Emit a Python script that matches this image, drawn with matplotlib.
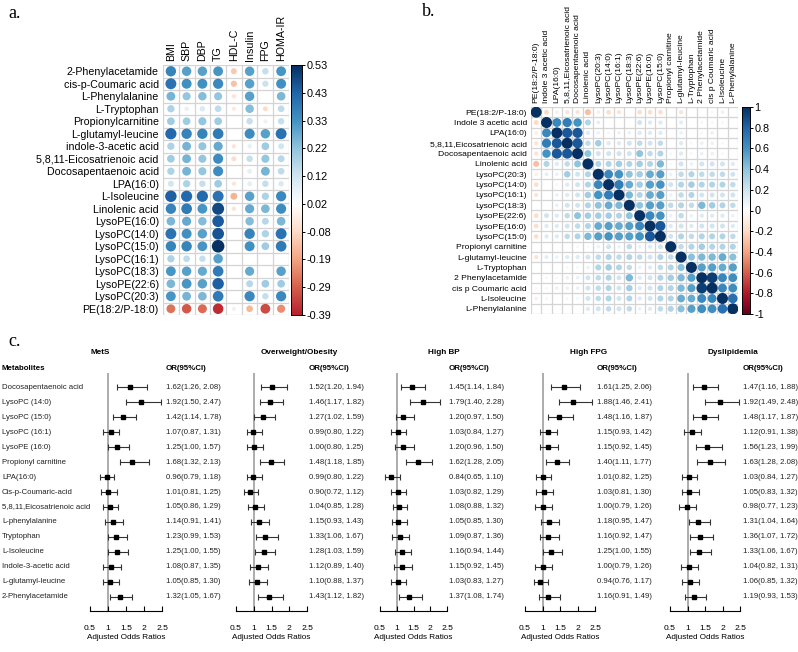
import numpy as np
import matplotlib
matplotlib.use("Agg")
import matplotlib.pyplot as plt
from matplotlib.colors import LinearSegmentedColormap

# ---------------- data: panel a ----------------
a_rows = ["2-Phenylacetamide", "cis-p-Coumaric acid", "L-Phenylalanine", "L-Tryptophan",
          "Propionylcarnitine", "L-glutamyl-leucine", "indole-3-acetic acid",
          "5,8,11-Eicosatrienoic acid", "Docosapentaenoic acid", "LPA(16:0)", "L-Isoleucine",
          "Linolenic acid", "LysoPE(16:0)", "LysoPC(14:0)", "LysoPC(15:0)", "LysoPC(16:1)",
          "LysoPC(18:3)", "LysoPE(22:6)", "LysoPC(20:3)", "PE(18:2/P-18:0)"]
a_cols = ["BMI", "SBP", "DBP", "TG", "HDL-C", "Insulin", "FPG", "HOMA-IR"]
nan = np.nan
a_vals = [
    [0.36, 0.30, 0.30, 0.32, -0.12, 0.30, 0.14, 0.32],
    [0.40, 0.33, 0.33, 0.35, -0.13, 0.30, 0.13, 0.33],
    [0.26, 0.22, 0.24, 0.22, -0.06, 0.30, nan, 0.25],
    [0.18, 0.07, 0.10, 0.15, -0.05, 0.24, -0.08, 0.15],
    [0.20, 0.20, 0.22, 0.20, nan, 0.14, 0.06, 0.14],
    [0.42, 0.36, 0.36, 0.38, nan, 0.34, 0.30, 0.40],
    [0.18, 0.26, 0.22, 0.28, -0.06, 0.07, 0.20, 0.12],
    [0.20, 0.26, 0.22, 0.34, -0.08, 0.14, 0.22, 0.16],
    [0.18, 0.26, 0.22, 0.34, nan, 0.08, 0.26, 0.15],
    [0.12, 0.18, 0.14, 0.20, -0.06, 0.08, 0.14, 0.10],
    [0.44, 0.42, 0.42, 0.40, -0.16, 0.30, 0.18, 0.35],
    [0.36, 0.38, 0.32, 0.48, -0.06, 0.28, 0.25, 0.34],
    [0.25, 0.28, 0.24, 0.45, nan, 0.24, 0.16, 0.25],
    [0.40, 0.33, 0.30, 0.46, nan, 0.36, 0.18, 0.40],
    [0.36, 0.36, 0.32, 0.53, nan, 0.33, 0.20, 0.38],
    [0.18, 0.15, 0.14, 0.30, nan, nan, nan, nan],
    [0.32, 0.30, 0.28, 0.38, nan, 0.28, nan, 0.30],
    [0.25, 0.32, 0.30, 0.44, nan, 0.16, 0.20, 0.20],
    [0.32, 0.26, 0.25, 0.38, nan, 0.35, 0.14, 0.35],
    [-0.26, -0.30, -0.27, -0.37, 0.06, -0.15, -0.32, -0.22],
]
a_cbar_labels = ["0.53", "0.43", "0.33", "0.22", "0.12", "0.02", "-0.08", "-0.19", "-0.29", "-0.39"]

# ---------------- data: panel b ----------------
b_names = ["PE(18:2/P-18:0)", "Indole 3 acetic acid", "LPA(16:0)", "5,8,11,Eicosatrienoic acid",
           "Docosapentaenoic acid", "Linolenic acid", "LysoPC(20:3)", "LysoPC(14:0)",
           "LysoPC(16:1)", "LysoPC(18:3)", "LysoPE(22:6)", "LysoPE(16:0)", "LysoPC(15:0)",
           "Propionyl carnitine", "L-glutamyl-leucine", "L-Tryptophan", "2 Phenylacetamide",
           "cis p Coumaric acid", "L-Isoleucine", "L-Phenylalanine"]
# upper triangle, row i lists correlations with columns i+1 .. 19
b_upper = [
    [-0.2, -0.1, -0.15, -0.15, -0.3, -0.1, -0.18, -0.15, 0, -0.18, -0.18, -0.18, 0, -0.15, 0, 0, -0.06, -0.1, 0],
    [0.65, 0.7, 0.6, 0.3, 0.12, 0, 0, 0, 0.2, 0.15, 0.15, 0, 0.13, 0, 0.06, 0.06, 0.06, 0],
    [0.85, 0.85, 0.15, 0.1, 0.06, 0.1, 0.1, 0.15, 0.15, 0.15, 0, 0.1, 0, 0.06, 0.1, 0, 0],
    [0.85, 0.25, 0.35, 0.15, 0.15, 0.2, 0.25, 0.2, 0.25, 0, 0.15, 0.06, 0.1, 0.1, 0.06, 0],
    [0.4, 0.2, 0.2, 0.2, 0.2, 0.4, 0.25, 0.3, 0.06, 0.15, 0.06, 0.1, 0.1, 0.06, 0],
    [0.3, 0.3, 0.35, 0.3, 0.35, 0.3, 0.45, 0.05, 0.2, 0.1, 0.2, 0.2, 0.2, 0.15],
    [0.65, 0.6, 0.4, 0.35, 0.5, 0.55, 0.1, 0.25, 0.3, 0.25, 0.25, 0.25, 0.2],
    [0.7, 0.5, 0.35, 0.55, 0.6, 0.2, 0.3, 0.35, 0.3, 0.3, 0.3, 0.25],
    [0.45, 0.3, 0.5, 0.55, 0.1, 0.25, 0.3, 0.2, 0.2, 0.2, 0.2],
    [0.4, 0.55, 0.55, 0.25, 0.3, 0.25, 0.45, 0.35, 0.3, 0.25],
    [0.65, 0.6, 0.1, 0.25, 0.1, 0.15, 0.15, 0.15, 0.1],
    [0.85, 0.15, 0.2, 0.15, 0.2, 0.2, 0.2, 0.15],
    [0.2, 0.3, 0.25, 0.3, 0.3, 0.3, 0.25],
    [0.25, 0.3, 0.35, 0.3, 0.3, 0.3],
    [0.42, 0.45, 0.45, 0.5, 0.42],
    [0.55, 0.55, 0.5, 0.55],
    [0.95, 0.65, 0.62],
    [0.65, 0.62],
    [0.75],
]
b_cbar_labels = ["1", "0.8", "0.6", "0.4", "0.2", "0", "-0.2", "-0.4", "-0.6", "-0.8", "-1"]

# ---------------- data: panel c ----------------
c_metabolites = ["Docosapentaenoic acid", "LysoPC (14:0)", "LysoPC (15:0)", "LysoPC (16:1)",
                 "LysoPE (16:0)", "Propionyl carnitine", "LPA(16:0)", "Cis-p-Coumaric-acid",
                 "5,8,11,Eicosatrienoic acid", "L-phenylalanine", "Tryptophan", "L-Isoleucine",
                 "Indole-3-acetic acid", "L-glutamyl-leucine", "2-Phenylacetamide"]
c_outcomes = ["MetS", "Overweight/Obesity", "High BP", "High FPG", "Dyslipidemia"]
mets_or = [1.62, 1.92, 1.42, 1.07, 1.25, 1.68, 0.96, 1.01, 1.05, 1.14, 1.23, 1.25, 1.08, 1.05, 1.32]
mets_lo = [1.26, 1.50, 1.14, 0.87, 1.00, 1.32, 0.79, 0.81, 0.86, 0.91, 0.99, 1.00, 0.87, 0.85, 1.05]
mets_hi = [2.08, 2.47, 1.78, 1.31, 1.57, 2.13, 1.18, 1.25, 1.29, 1.41, 1.53, 1.55, 1.35, 1.30, 1.67]
ow_or = [1.52, 1.46, 1.27, 0.99, 1.00, 1.48, 0.99, 0.90, 1.04, 1.15, 1.33, 1.28, 1.12, 1.10, 1.43]
ow_lo = [1.20, 1.17, 1.02, 0.80, 0.80, 1.18, 0.80, 0.72, 0.85, 0.93, 1.06, 1.03, 0.89, 0.88, 1.12]
ow_hi = [1.94, 1.82, 1.59, 1.22, 1.25, 1.85, 1.22, 1.12, 1.28, 1.43, 1.67, 1.59, 1.40, 1.37, 1.82]
bp_or = [1.45, 1.79, 1.20, 1.03, 1.20, 1.62, 0.84, 1.03, 1.08, 1.05, 1.09, 1.16, 1.15, 1.03, 1.37]
bp_lo = [1.14, 1.40, 0.97, 0.84, 0.96, 1.28, 0.65, 0.82, 0.88, 0.85, 0.87, 0.94, 0.92, 0.83, 1.08]
bp_hi = [1.84, 2.28, 1.50, 1.27, 1.50, 2.05, 1.10, 1.29, 1.32, 1.30, 1.36, 1.44, 1.45, 1.27, 1.74]
fpg_or = [1.61, 1.88, 1.48, 1.15, 1.15, 1.40, 1.01, 1.03, 1.00, 1.18, 1.16, 1.25, 1.00, 0.94, 1.16]
fpg_lo = [1.25, 1.46, 1.16, 0.93, 0.92, 1.11, 0.82, 0.81, 0.79, 0.95, 0.92, 1.00, 0.79, 0.76, 0.91]
fpg_hi = [2.06, 2.41, 1.87, 1.42, 1.45, 1.77, 1.25, 1.30, 1.26, 1.47, 1.47, 1.55, 1.26, 1.17, 1.49]
dys_or = [1.47, 1.92, 1.48, 1.12, 1.56, 1.63, 1.03, 1.05, 0.98, 1.31, 1.36, 1.33, 1.04, 1.06, 1.19]
dys_lo = [1.16, 1.49, 1.17, 0.91, 1.23, 1.28, 0.84, 0.83, 0.77, 1.04, 1.07, 1.06, 0.82, 0.85, 0.93]
dys_hi = [1.88, 2.48, 1.87, 1.38, 1.99, 2.08, 1.27, 1.32, 1.23, 1.64, 1.72, 1.67, 1.31, 1.32, 1.53]
c_ticks = [0.5, 1, 1.5, 2, 2.5]
c_tick_labels = ["0.5", "1", "1.5", "2", "2.5"]

# ---------------- figure ----------------
W, H = 798, 652
plt.rcParams['font.family'] = ['Liberation Sans', 'DejaVu Sans']
fig = plt.figure(figsize=(W / 100, H / 100), dpi=100)


def px_axes(x0, y0, x1, y1):
    return fig.add_axes([x0 / W, 1 - y1 / H, (x1 - x0) / W, (y1 - y0) / H])


def fx(px):
    return px / W


def fy(py):
    return 1 - py / H


GRID = "#d4d4d4"
rdbu_full = ["#67001F", "#B2182B", "#D6604D", "#F4A582", "#FDDBC7", "#FFFFFF",
             "#D1E5F0", "#92C5DE", "#4393C3", "#2166AC", "#053061"]
cmap_b = LinearSegmentedColormap.from_list("corr_b", rdbu_full)
cmap_a = LinearSegmentedColormap.from_list("corr_a", ["#B8202E"] + rdbu_full[2:])


def corr_panel(ax, vals, cmap, vmin, vmax, smax, scale):
    nr, nc = vals.shape
    ax.set_xlim(-0.5, nc - 0.5)
    ax.set_ylim(nr - 0.5, -0.5)
    for k in range(nc + 1):
        ax.axvline(k - 0.5, color=GRID, lw=0.9, zorder=1)
    for k in range(nr + 1):
        ax.axhline(k - 0.5, color=GRID, lw=0.9, zorder=1)
    yy, xx = np.mgrid[0:nr, 0:nc]
    m = ~np.isnan(vals) & (vals != 0)
    v = vals[m]
    ax.scatter(xx[m], yy[m], s=smax * np.abs(v) / scale, c=v, cmap=cmap, vmin=vmin, vmax=vmax,
               edgecolors='none', zorder=3)
    for sp in ax.spines.values():
        sp.set_visible(False)


def colorbar(cax, cmap, vmin, vmax, labels, fs):
    grad = np.linspace(vmin, vmax, 256)[:, None]
    cax.imshow(grad, aspect='auto', cmap=cmap, vmin=vmin, vmax=vmax, origin='lower',
               extent=(0, 1, vmin, vmax))
    cax.set_xticks([])
    cax.yaxis.tick_right()
    cax.set_yticks(np.linspace(vmax, vmin, len(labels)))
    cax.set_yticklabels(labels, fontsize=fs)
    cax.tick_params(axis='y', length=2.5, width=0.7, pad=0.5)
    for sp in cax.spines.values():
        sp.set_linewidth(0.7)


# ---- panel a ----
A = np.array(a_vals, dtype=float)
axa = px_axes(163, 65, 289, 315)
corr_panel(axa, A, cmap_a, -0.39, 0.53, (0.72 * 12.6) ** 2, 0.53)
axa.set_yticks(range(len(a_rows)))
axa.set_yticklabels(a_rows, fontsize=7.7)
axa.xaxis.tick_top()
axa.set_xticks(range(len(a_cols)))
axa.set_xticklabels(a_cols, rotation=90, fontsize=7.7)
axa.tick_params(length=0, pad=3)
caxa = px_axes(291, 65, 302, 315)
colorbar(caxa, cmap_a, -0.39, 0.53, a_cbar_labels, 7.8)
fig.text(fx(8), fy(14), "a.", family="Liberation Serif", fontsize=13, va='center')

# ---- panel b ----
n = len(b_names)
B = np.eye(n)
for i, row in enumerate(b_upper):
    for k, val in enumerate(row):
        j = i + 1 + k
        B[i, j] = val
        B[j, i] = val
axb = px_axes(531, 107, 738, 314)
corr_panel(axb, B, cmap_b, -1, 1, (0.72 * 11.0) ** 2, 1.0)
axb.set_yticks(range(n))
axb.set_yticklabels(b_names, fontsize=6.1)
axb.xaxis.tick_top()
axb.set_xticks(range(n))
axb.set_xticklabels(b_names, rotation=90, fontsize=6.1)
axb.tick_params(length=0, pad=3)
caxb = px_axes(742, 107, 750, 314)
colorbar(caxb, cmap_b, -1, 1, b_cbar_labels, 7.8)
fig.text(fx(422), fy(12), "b.", family="Liberation Serif", fontsize=13, va='center')

# ---- panel c ----
fig.text(fx(8), fy(341), "c.", family="Liberation Serif", fontsize=13, va='center')
row0, drow = 387.3, 14.96
ytop_px, ybot_px = 373, 611
panels = [
    (mets_or, mets_lo, mets_hi, 90, 162, 166, 100),
    (ow_or, ow_lo, ow_hi, 236, 307, 309, 299),
    (bp_or, bp_lo, bp_hi, 380, 447, 449, 444),
    (fpg_or, fpg_lo, fpg_hi, 525, 595, 597, 589),
    (dys_or, dys_lo, dys_hi, 670, 740, 743, 733),
]
fig.text(fx(2), fy(368), "Metabolites", fontsize=5.7, fontweight='bold', va='center')
for i, name in enumerate(c_metabolites):
    fig.text(fx(2), fy(row0 + drow * i), name, fontsize=5.6, va='center', color='#222222')

for title, (orv, lo, hi, x0, x1, tx, cx) in zip(c_outcomes, panels):
    orv, lo, hi = np.array(orv), np.array(lo), np.array(hi)
    ax = px_axes(x0, ytop_px, x1, ybot_px)
    ax.set_xlim(0.5, 2.5)
    ax.set_ylim((ybot_px - row0) / drow, (ytop_px - row0) / drow)
    y = np.arange(len(orv))
    ax.axvline(1, color='#a6a6a6', lw=1.3, zorder=0)
    ax.errorbar(orv, y, xerr=[orv - lo, hi - orv], fmt='s', color='black', ecolor='#333333',
                ms=3.4, elinewidth=0.8, capsize=2, capthick=0.8, zorder=3)
    for sp in ['left', 'top', 'right']:
        ax.spines[sp].set_visible(False)
    ax.spines['bottom'].set_linewidth(0.8)
    ax.set_yticks([])
    ax.set_xticks(c_ticks)
    ax.set_xticklabels(c_tick_labels)
    ax.tick_params(axis='x', direction='in', length=3.5, width=0.8, labelsize=6.1, pad=10)
    ax.set_xlabel("Adjusted Odds Ratios", fontsize=5.9, labelpad=1.5)
    ax.patch.set_alpha(0)
    fig.text(fx(cx), fy(353), title, fontsize=5.9, fontweight='bold', ha='center', va='center')
    fig.text(fx(tx), fy(368), "OR(95%CI)", fontsize=5.7, fontweight='bold', va='center')
    for i in range(len(orv)):
        fig.text(fx(tx), fy(row0 + drow * i), f"{orv[i]:.2f}({lo[i]:.2f}, {hi[i]:.2f})",
                 fontsize=5.6, va='center', color='#222222')

fig.savefig("out.png", dpi=100)
